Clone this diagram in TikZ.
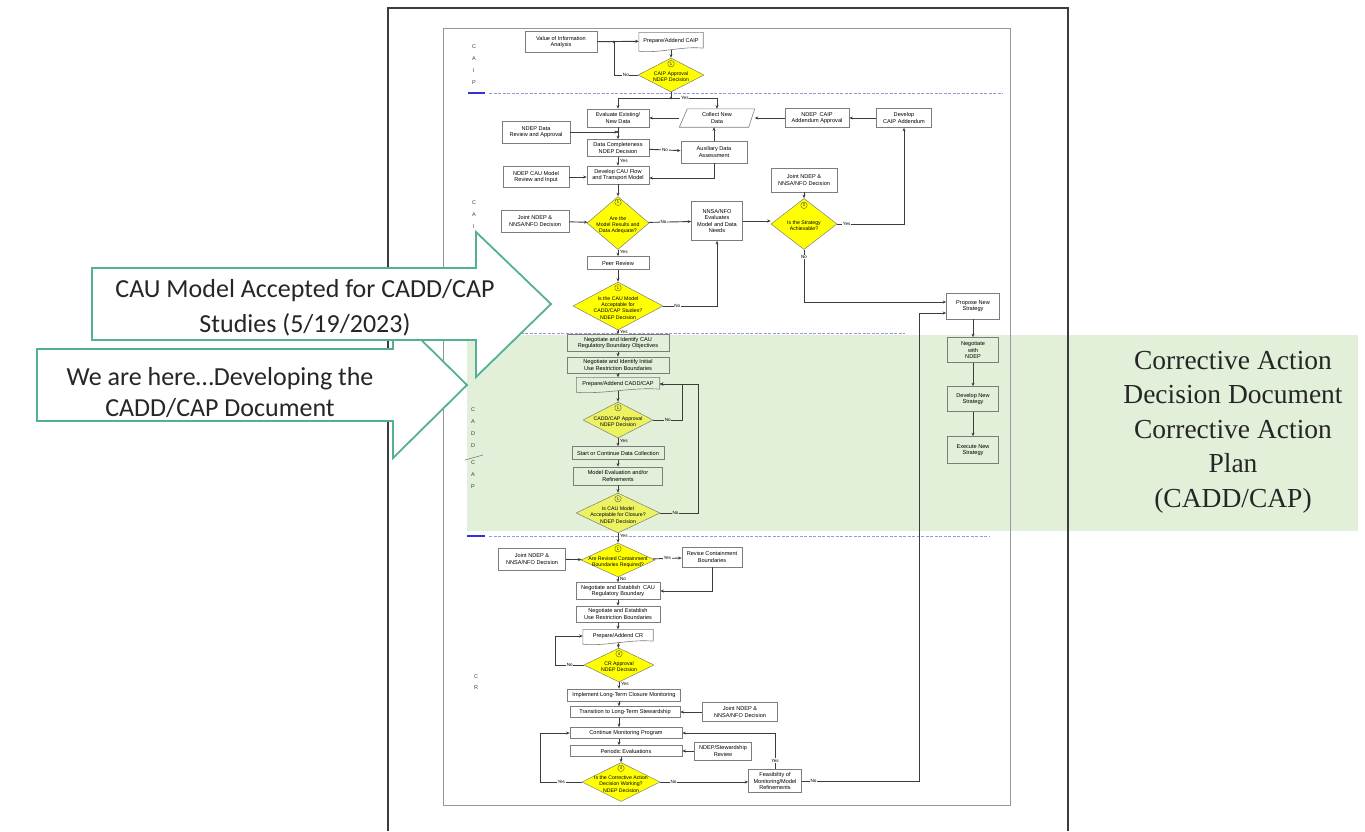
\documentclass[tikz,border=0pt]{standalone}
\usepackage{fontspec}
\setmainfont{Liberation Sans}
\newfontfamily\calib{Carlito}
\newfontfamily\timesf{Liberation Serif}
\usetikzlibrary{positioning, shapes.geometric, arrows.meta, calc}
\definecolor{lineg}{RGB}{60,60,60}
\definecolor{boxg}{RGB}{125,125,125}
\definecolor{decy}{RGB}{255,255,0}
\definecolor{decg}{RGB}{236,242,96}
\definecolor{callg}{RGB}{84,176,148}
\definecolor{greenbg}{RGB}{226,239,217}
\definecolor{dashb}{RGB}{150,150,228}
\definecolor{solidb}{RGB}{50,50,215}
\newcommand{\fcfont}{\fontsize{5.6}{6.6}\selectfont}
% wavy bottom for document boxes
\newcommand{\wavydoc}[1]{%
  \draw[boxg, line width=0.6pt] ([yshift=1.5pt]#1.south east) -- (#1.north east) -- (#1.north west) -- ([yshift=-1.5pt]#1.south west)
    .. controls ($(#1.south west)!0.6!(#1.south)+(0,4)$) and ($(#1.south)!0.4!(#1.south east)+(0,-4)$) .. ([yshift=1.5pt]#1.south east);}

\begin{document}
\begin{tikzpicture}[x=1pt,y=-1pt,>={Stealth[length=3.6pt,width=3pt]},
    box/.style={draw=boxg, line width=0.6pt, align=center, inner sep=0.8pt, font=\fcfont},
    doc/.style={align=center, inner sep=0.8pt, font=\fcfont},
    dec/.style={diamond, draw=boxg, fill=decy, line width=0.5pt, inner sep=0pt},
    dtext/.style={align=center, inner sep=0pt, yshift=-2pt, font=\fontsize{5.2}{6.2}\selectfont},
    num/.style={circle, draw=lineg, line width=0.3pt, inner sep=0.3pt, minimum size=6.5pt, font=\fontsize{4}{4}\selectfont},
    line/.style={draw=lineg, line width=0.9pt},
    yn/.style={font=\fontsize{4.6}{5}\selectfont, fill=white, inner sep=0.6pt},
    yesr/.style={yn, anchor=west, xshift=1pt},
    sec/.style={font=\fontsize{5.5}{6}\selectfont, text=lineg, inner sep=0pt},
    callout/.style={draw=callg, line width=1.8pt, fill=white, line join=miter}]

  \useasboundingbox (0,0) rectangle (1365,831);

  % CADD/CAP highlight
  \fill[greenbg] (467,335) rectangle (1358,531);

  % page and frame
  \draw[lineg, line width=1.6pt] (388,831) -- (388,8) -- (1068,8) -- (1068,831);
  \draw[boxg!80, line width=0.6pt] (443,28) rectangle (1010,805);

  % section separators
  \draw[solidb, line width=2pt] (468,93) -- (485,93);
  \draw[dashb, line width=0.8pt, dash pattern=on 3pt off 1.5pt] (489,93) -- (1003,93);
  \draw[solidb, line width=2pt] (468,333) -- (485,333);
  \draw[dashb, line width=0.8pt, dash pattern=on 3pt off 1.5pt] (489,333) -- (905,333);
  \draw[solidb, line width=2pt] (467,536) -- (485,536);
  \draw[dashb, line width=0.8pt, dash pattern=on 3pt off 1.5pt] (489,536) -- (990,536);

  % section letters
  \foreach \ch [count=\i] in {C,A,I,P}
    \node[sec] (caip\i) at (474,35+12*\i) {\ch};
  \foreach \ch [count=\i] in {C,A,I}
    \node[sec] (cai\i) at (474,191+12*\i) {\ch};
  \foreach \ch [count=\i] in {C,A,D,D}
    \node[sec] (cadd\i) at (473,398+12*\i) {\ch};
  \draw[boxg, line width=0.6pt] (465,460) -- (483,455);
  \foreach \ch [count=\i] in {C,A,P}
    \node[sec] (ccap\i) at (473,451+12*\i) {\ch};
  \foreach \ch [count=\i] in {C,R}
    \node[sec] (cr\i) at (476,666+11*\i) {\ch};

  % CAIP
  \node[box, minimum width=72, minimum height=21] (v_info) at (561,42) {Value of Information\\Analysis};
  \node[doc, minimum width=64, minimum height=17] (p_caip) at (671,41) {Prepare/Addend CAIP};
  \wavydoc{p_caip}
  \node[dec, minimum width=66, minimum height=34, label={[dtext]center:{CAIP Approval\\NDEP Decision}}] (d_caip) at (671,75) {};
  \node[num] (n_caip) at ([yshift=-6pt]d_caip.north) {1};

  % CAI
  \node[box, minimum width=62, minimum height=18] (e_data) at (618,118) {Evaluate Existing/\\New Data};
  \node[doc, minimum width=75, minimum height=18] (c_data) at (717,118) {Collect New\\Data};
  \draw[boxg, line width=0.6pt] ([xshift=8pt]c_data.north west) -- (c_data.north east) -- ([xshift=-6pt]c_data.south east) -- (c_data.south west) -- cycle;
  \node[box, minimum width=64, minimum height=19] (n_add) at (817,118) {NDEP\enspace CAIP\\Addendum Approval};
  \node[box, minimum width=55, minimum height=19] (dev_add) at (904,118) {Develop\\CAIP Addendum};
  \node[box, minimum width=68, minimum height=22] (ndep_rev) at (536,132) {NDEP Data\\Review and Approval};
  \node[box, minimum width=62, minimum height=17] (dc_dec) at (618,148) {Data Completeness\\NDEP Decision};
  \node[box, minimum width=66, minimum height=22] (aux) at (714,152) {Auxiliary Data\\Assessment};
  \node[box, minimum width=62, minimum height=18] (dev_cau) at (618,175) {Develop CAU Flow\\and Transport Model};
  \node[box, minimum width=66, minimum height=21] (ndep_cau) at (536,177) {NDEP CAU Model\\Review and Input};
  \node[dec, minimum width=62, minimum height=53, label={[dtext]center:{Are the\\Model Results and\\Data Adequate?}}] (d_adeq) at (618,223) {};
  \node[num] (n_adeq) at ([yshift=-6pt]d_adeq.north) {1};
  \node[box, minimum width=68, minimum height=22] (joint1) at (535,221) {Joint NDEP \&\\NNSA/NFO Decision};
  \node[box, minimum width=51, minimum height=39] (nnsa) at (717,221) {NNSA/NFO\\Evaluates\\Model and Data\\Needs};
  \node[dec, minimum width=66, minimum height=51, label={[dtext]center:{Is the Strategy\\Achievable?}}] (s_ach) at (804,224) {};
  \node[num] (n_ach) at ([yshift=-7pt]s_ach.north) {3};
  \node[box, minimum width=66, minimum height=24] (joint2) at (804,180) {Joint NDEP \&\\NNSA/NFO Decision};
  \node[box, minimum width=62, minimum height=13] (peer) at (618,263) {Peer Review};
  \node[dec, minimum width=90, minimum height=48, label={[dtext]center:{Is the CAU Model\\Acceptable for\\CADD/CAP Studies?\\NDEP Decision}}] (d_cau) at (618,306) {};
  \node[num] (n_cau) at ([yshift=-6pt]d_cau.north) {1};

  % CADD/CAP
  \node[box, minimum width=102, minimum height=17] (neg1) at (618,343) {Negotiate and Identify CAU\\Regulatory Boundary Objectives};
  \node[box, minimum width=102, minimum height=16] (neg2) at (618,365) {Negotiate and Identify Initial\\Use Restriction Boundaries};
  \node[doc, minimum width=83, minimum height=13] (p_cadd) at (618,384) {Prepare/Addend CADD/CAP};
  \wavydoc{p_cadd}
  \node[dec, fill=decg, minimum width=70, minimum height=36, label={[dtext]center:{CADD/CAP Approval\\NDEP Decision}}] (d_cadd) at (618,420) {};
  \node[num] (n_cadd) at ([yshift=-6pt]d_cadd.north) {1};
  \node[box, minimum width=92, minimum height=13] (start) at (618,453) {Start or Continue Data Collection};
  \node[box, minimum width=89, minimum height=18] (model) at (618,476) {Model Evaluation and/or\\Refinements};
  \node[dec, fill=decg, minimum width=84, minimum height=40, label={[dtext]center:{Is CAU Model\\Acceptable for Closure?\\NDEP Decision}}] (d_clos) at (618,513) {};
  \node[num] (n_clos) at ([yshift=-6pt]d_clos.north) {1};

  % CR
  \node[dec, minimum width=74, minimum height=34, label={[dtext]center:{Are Revised Containment\\Boundaries Required?}}] (d_rev) at (618,560) {};
  \node[num] (n_rev) at ([yshift=-6pt]d_rev.north) {1};
  \node[box, minimum width=67, minimum height=22] (joint3) at (532,559) {Joint NDEP \&\\NNSA/NFO Decision};
  \node[box, minimum width=60, minimum height=20] (revise) at (712,557) {Revise Containment\\Boundaries};
  \node[box, minimum width=84, minimum height=17] (neg3) at (618,591) {Negotiate and Establish\enspace CAU\\Regulatory Boundary};
  \node[box, minimum width=84, minimum height=16] (neg4) at (618,614) {Negotiate and Establish\\Use Restriction Boundaries};
  \node[doc, minimum width=70, minimum height=13] (p_cr) at (618,636) {Prepare/Addend CR};
  \wavydoc{p_cr}
  \node[dec, minimum width=70, minimum height=34, label={[dtext]center:{CR Approval\\NDEP Decision}}] (d_cr) at (619,665) {};
  \node[num] (n_cr) at ([yshift=-6pt]d_cr.north) {4};
  \node[box, minimum width=113, minimum height=12] (impl) at (624,695) {Implement Long-Term Closure Monitoring};
  \node[box, minimum width=110, minimum height=11] (trans) at (625,712) {Transition to Long-Term Stewardship};
  \node[box, minimum width=75, minimum height=19] (joint4) at (740,712) {Joint NDEP \&\\NNSA/NFO Decision};
  \node[box, minimum width=112, minimum height=11] (cont) at (626,733) {Continue Monitoring Program};
  \node[box, minimum width=112, minimum height=11] (period) at (626,751) {Periodic Evaluations};
  \node[box, minimum width=57, minimum height=18] (stew) at (723,751) {NDEP/Stewardship\\Review};
  \node[dec, minimum width=78, minimum height=39, label={[dtext]center:{Is the Corrective Action\\Decision Working?\\NDEP Decision}}] (d_work) at (621,782) {};
  \node[num] (n_work) at ([yshift=-6pt]d_work.north) {4};
  \node[box, minimum width=53, minimum height=23] (feas) at (775,781) {Feasibility of\\Monitoring/Model\\Refinements};

  % new strategy column
  \node[box, minimum width=53, minimum height=26] (prop) at (973,306) {Propose New\\Strategy};
  \node[box, minimum width=51, minimum height=25] (negn) at (973,350) {Negotiate\\with\\NDEP};
  \node[box, minimum width=51, minimum height=25] (devn) at (973,399) {Develop New\\Strategy};
  \node[box, minimum width=51, minimum height=27] (exec) at (973,450) {Execute New\\Strategy};

  % junctions
  \coordinate (j1) at (614,42);
  \coordinate (j2) at (671,98);
  \coordinate (j3) at (618,132);

  % connectors
  \path[line,->] (v_info) -- (p_caip);
  \path[line,->] (p_caip.south) -- (d_caip.north);
  \path[line] (d_caip.west) -| node[yn, pos=0.25]{No} (j1);
  \path[line] (d_caip.south) -- (j2);
  \path[line,->] (j2) -| (e_data);
  \path[line,->] (j2) -| node[yn, pos=0.15]{Yes} (c_data);
  \path[line,->] (c_data) -- (e_data);
  \path[line,->] (n_add) -- (c_data);
  \path[line,->] (dev_add) -- (n_add);
  \path[line,->] (ndep_rev.east) -- (j3);
  \path[line,->] (e_data) -- (dc_dec);
  \path[line,->] (dc_dec) -- node[yn]{No} (aux);
  \path[line,->] (aux.north) -- (aux.north |- c_data.south);
  \path[line,->] (aux.south) |- ([yshift=-3pt]dev_cau.east);
  \path[line,->] (dc_dec) -- node[yesr]{Yes} (dev_cau);
  \path[line,->] (ndep_cau.east) -- (ndep_cau.east -| dev_cau.west);
  \path[line,->] (dev_cau) -- (d_adeq);
  \path[line,->] (joint1) -- (d_adeq);
  \path[line,->] (d_adeq) -- node[yn, pos=0.35]{No} (nnsa);
  \path[line,->] (nnsa.east) -- (nnsa.east -| s_ach.west);
  \path[line,->] (joint2) -- (s_ach);
  \path[line,->] (s_ach.east) -| node[yn, pos=0.07]{Yes} (dev_add);
  \path[line,->] (s_ach.south) |- node[yn, pos=0.07]{No} ([yshift=4pt]prop.west);
  \path[line,->] (d_adeq) -- node[yesr, pos=0.3]{Yes} (peer);
  \path[line,->] (peer) -- (d_cau);
  \path[line,->] (d_cau.east) -| node[yn, pos=0.13]{No} (nnsa.south);
  \path[line,->] (d_cau) -- node[yesr, pos=0.4]{Yes} (neg1);
  \path[line,->] (neg1) -- (neg2);
  \path[line,->] (neg2) -- (p_cadd);
  \path[line,->] (p_cadd) -- (d_cadd);
  \path[line,->] (d_cadd.east) -- node[yn, fill=greenbg]{No} ++(29,0) |- (p_cadd.east);
  \path[line,->] (d_cadd) -- node[yesr, fill=greenbg, pos=0.3]{Yes} (start);
  \path[line,->] (start) -- (model);
  \path[line,->] (model) -- (d_clos);
  \path[line,->] (d_clos.east) -- node[yn, fill=greenbg, pos=0.4]{No} ++(38,0) |- (p_cadd.east);
  \path[line,->] (d_clos) -- node[yesr, pos=0.3]{Yes} (d_rev);
  \path[line,->] (joint3) -- (d_rev);
  \path[line,->] (d_rev) -- node[yn]{Yes} (revise);
  \path[line,->] (revise.south) |- (neg3.east);
  \path[line,->] (d_rev) -- node[yesr, pos=0.35]{No} (neg3);
  \path[line,->] (neg3) -- (neg4);
  \path[line,->] (neg4) -- (p_cr);
  \path[line,->] (p_cr) -- (d_cr);
  \path[line,->] (d_cr.west) -- node[yn]{No} ++(-28,0) |- (p_cr.west);
  \path[line,->] (d_cr.south) -- node[yesr, pos=0.3]{Yes} (d_cr.south |- impl.north);
  \path[line,->] (impl.south -| d_cr) -- (trans.north -| d_cr);
  \path[line,->] (joint4) -- (trans);
  \path[line,->] (trans.south -| d_cr) -- (cont.north -| d_cr);
  \path[line,->] (cont.south -| d_cr) -- (period.north -| d_cr);
  \path[line,->] (stew) -- (period);
  \path[line,->] (period.south -| d_work) -- (d_work.north);
  \path[line,->] (d_work.west) -- node[yn]{Yes} ++(-41,0) |- (cont.west);
  \path[line,->] (d_work.east) -- node[yn, pos=0.15]{No} (feas.west |- d_work.east);
  \path[line,->] (feas.north) |- node[yn, pos=0.12]{Yes} (cont.east);
  \path[line,->] (feas.east) -- node[yn, pos=0.1]{No} ++(118,0) |- ([yshift=-7pt]prop.west);
  \path[line,->] (prop) -- (negn);
  \path[line,->] (negn) -- (devn);
  \path[line,->] (devn) -- (exec);
  \foreach \j in {j1,j2,j3}
    \fill[lineg] (\j) circle (1.3pt);

  \node[align=center, inner sep=0pt, font=\timesf\fontsize{27.5}{34.5}\selectfont, text=black!85] (cadd_txt) at (1233,432)
    {Corrective Action\\Decision Document\\Corrective Action\\Plan\\(CADD/CAP)};

  % callouts
  \draw[callout] (37,349) -- (393,349) -- (393,312) -- (467,385) -- (393,458) -- (393,421) -- (37,421) -- cycle;
  \node[align=center, inner sep=0pt, font=\calib\fontsize{26}{31}\selectfont, text=black!85] (msg_here) at (220,393)
    {We are here…Developing the\\CADD/CAP Document};
  \draw[callout] (92,268) -- (476,268) -- (476,232) -- (551,304) -- (476,377) -- (476,340) -- (92,340) -- cycle;
  \node[align=center, inner sep=0pt, font=\calib\fontsize{26}{35}\selectfont, text=black!85] (msg_acc) at (305,308)
    {CAU Model Accepted for CADD/CAP\\Studies (5/19/2023)};
\end{tikzpicture}
\end{document}
